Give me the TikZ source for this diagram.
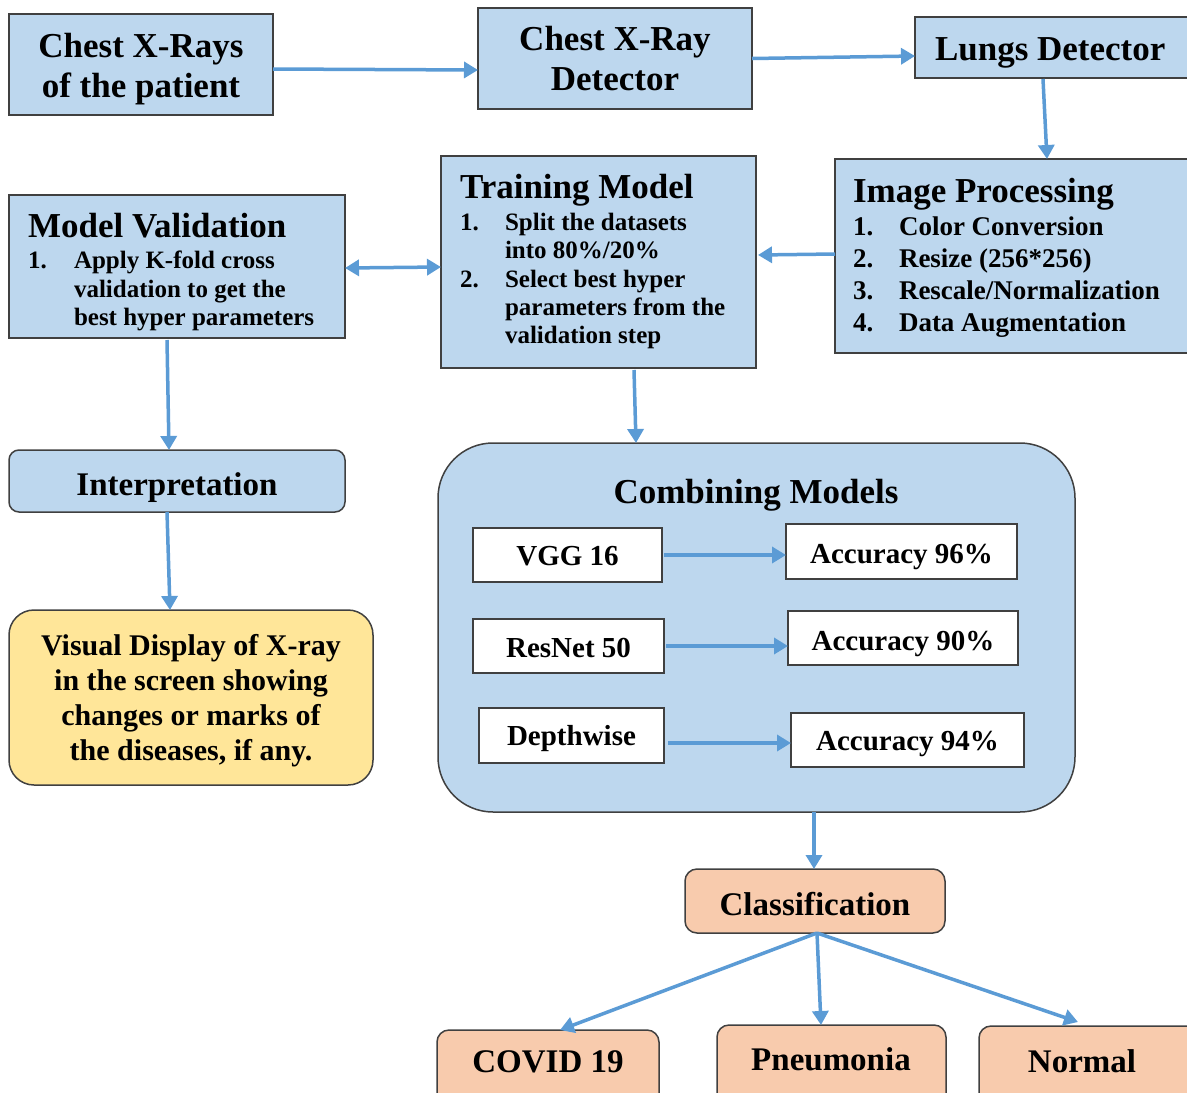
\documentclass[tikz,border=0pt]{standalone}
\usepackage{fontspec}
\setmainfont{Liberation Serif}
\usetikzlibrary{arrows.meta,calc}
\definecolor{boxblue}{HTML}{BDD7EE}
\definecolor{edge}{HTML}{404040}
\definecolor{salmon}{HTML}{F8CBAD}
\definecolor{yel}{HTML}{FFE699}
\definecolor{arr}{HTML}{5B9BD5}
\newcommand\fbig{\fontsize{35}{40}\selectfont\bfseries}
\newcommand\fmid{\fontsize{33}{38}\selectfont\bfseries}
\newcommand\fvis{\fontsize{30}{35}\selectfont\bfseries}
\newcommand\facc{\fontsize{29}{34}\selectfont\bfseries}
\newcommand\fip{\fontsize{27}{32}\selectfont\bfseries}
\newcommand\fsm{\fontsize{25}{29}\selectfont\bfseries}
\tikzset{
  boxbase/.style={draw=edge, line width=1.5pt, inner sep=0pt, outer sep=0pt, anchor=north west},
  bluebox/.style={boxbase, fill=boxblue},
  whitebox/.style={boxbase, fill=white},
  salbox/.style={boxbase, fill=salmon, rounded corners=12pt},
  txt/.style={inner sep=0pt, outer sep=0pt},
  conn/.style={draw=arr, line width=3.5pt, -{Triangle[length=14pt,width=16pt]}},
  dconn/.style={draw=arr, line width=3.5pt, {Triangle[length=14pt,width=16pt]}-{Triangle[length=14pt,width=16pt]}}
}
\begin{document}
\begin{tikzpicture}[x=1pt,y=-1pt]
\useasboundingbox (0,0) rectangle (1187,1093);
% top row
\node[bluebox, minimum width=264pt, minimum height=101pt] (A) at (9,14) {};
\node[txt, anchor=base] (A1t) at (141,57) {\fbig Chest X-Rays};
\node[txt, anchor=base] (A2t) at (141,97) {\fbig of the patient};
\node[bluebox, minimum width=274pt, minimum height=101pt] (B) at (478,8) {};
\node[txt, anchor=base] (B1t) at (615,50) {\fbig Chest X-Ray};
\node[txt, anchor=base] (B2t) at (615,90) {\fbig Detector};
\node[bluebox, minimum width=290pt, minimum height=61pt] (C) at (915,17) {};
\node[txt, anchor=base west] (Ct) at (935,60) {\fbig Lungs Detector};
% image processing
\node[bluebox, minimum width=370pt, minimum height=194pt] (D) at (835,159) {};
\node[txt, anchor=base west] (Dt) at (853,202) {\fbig Image Processing};
\node[txt, anchor=base west] (Dn1) at (853,235) {\fip 1.};
\node[txt, anchor=base west] (Di1) at (899,235) {\fip Color Conversion};
\node[txt, anchor=base west] (Dn2) at (853,267) {\fip 2.};
\node[txt, anchor=base west] (Di2) at (899,267) {\fip Resize (256*256)};
\node[txt, anchor=base west] (Dn3) at (853,299) {\fip 3.};
\node[txt, anchor=base west] (Di3) at (899,299) {\fip Rescale/Normalization};
\node[txt, anchor=base west] (Dn4) at (853,331) {\fip 4.};
\node[txt, anchor=base west] (Di4) at (899,331) {\fip Data Augmentation};
% training model
\node[bluebox, minimum width=315pt, minimum height=212pt] (E) at (441,156) {};
\node[txt, anchor=base west] (Et) at (460,198) {\fbig Training Model};
\node[txt, anchor=base west] (En1) at (460,230) {\fsm 1.};
\node[txt, anchor=base west] (Ei1) at (505,230) {\fsm Split the datasets};
\node[txt, anchor=base west] (Ei2) at (505,258) {\fsm into 80\%/20\%};
\node[txt, anchor=base west] (En2) at (460,287) {\fsm 2.};
\node[txt, anchor=base west] (Ei3) at (505,287) {\fsm Select best hyper};
\node[txt, anchor=base west] (Ei4) at (505,315) {\fsm parameters from the};
\node[txt, anchor=base west] (Ei5) at (505,343) {\fsm validation step};
% model validation
\node[bluebox, minimum width=336pt, minimum height=143pt] (F) at (9,195) {};
\node[txt, anchor=base west] (Ft) at (28,237) {\fbig Model Validation};
\node[txt, anchor=base west] (Fn1) at (28,268) {\fsm 1.};
\node[txt, anchor=base west] (Fi1) at (74,268) {\fsm Apply K-fold cross};
\node[txt, anchor=base west] (Fi2) at (74,297) {\fsm validation to get the};
\node[txt, anchor=base west] (Fi3) at (74,325) {\fsm best hyper parameters};
% interpretation and display
\node[bluebox, rounded corners=10pt, minimum width=336pt, minimum height=62pt] (G) at (9,450) {};
\node[txt, anchor=base] (Gt) at (177,495) {\fmid Interpretation};
\node[boxbase, fill=yel, rounded corners=25pt, minimum width=364pt, minimum height=175pt] (H) at (9,610) {};
\node[txt, anchor=base] (H1t) at (191,655) {\fvis Visual Display of X-ray};
\node[txt, anchor=base] (H2t) at (191,690) {\fvis in the screen showing};
\node[txt, anchor=base] (H3t) at (191,725) {\fvis changes or marks of};
\node[txt, anchor=base] (H4t) at (191,760) {\fvis the diseases, if any.};
% combining models
\node[bluebox, rounded corners=55pt, minimum width=637pt, minimum height=369pt] (I) at (438,443) {};
\node[txt, anchor=base] (It) at (756,503) {\fbig Combining Models};
\node[whitebox, minimum width=189pt, minimum height=54pt] (V1) at (473,528) {};
\node[txt, anchor=base] (V1t) at (567.5,565) {\facc VGG 16};
\node[whitebox, minimum width=231pt, minimum height=55pt] (R1) at (786,524) {};
\node[txt, anchor=base] (R1t) at (901.5,563) {\facc Accuracy 96\%};
\node[whitebox, minimum width=191pt, minimum height=54pt] (V2) at (473,619) {};
\node[txt, anchor=base] (V2t) at (568.5,657) {\facc ResNet 50};
\node[whitebox, minimum width=230pt, minimum height=54pt] (R2) at (788,611) {};
\node[txt, anchor=base] (R2t) at (903,650) {\facc Accuracy 90\%};
\node[whitebox, minimum width=185pt, minimum height=55pt] (V3) at (479,708) {};
\node[txt, anchor=base] (V3t) at (571.5,745) {\facc Depthwise};
\node[whitebox, minimum width=233pt, minimum height=54pt] (R3) at (791,713) {};
\node[txt, anchor=base] (R3t) at (907.5,750) {\facc Accuracy 94\%};
% classification
\node[salbox, minimum width=260pt, minimum height=64pt] (J) at (685,869) {};
\node[txt, anchor=base] (Jt) at (815,915) {\fmid Classification};
\node[salbox, minimum width=222pt, minimum height=80pt] (K) at (437,1030) {};
\node[txt, anchor=base] (Kt) at (548,1072) {\fmid COVID 19};
\node[salbox, minimum width=229pt, minimum height=85pt] (L) at (717,1025) {};
\node[txt, anchor=base] (Lt) at (831,1070) {\fmid Pneumonia};
\node[salbox, minimum width=230pt, minimum height=85pt] (M) at (979,1026) {};
\node[txt, anchor=base] (Mt) at (1082,1072) {\fmid Normal};
% connectors
\draw[conn] ($(A.east)+(0,4.5)$) -- ($(B.west)+(0,11.5)$);
\draw[conn] (B.east) -- ($(C.west)+(0,8.5)$);
\draw[conn] ($(C.south west)+(128,1)$) -- ($(D.north west)+(212,0)$);
\draw[conn] ($(D.west)+(0,-2)$) -- ($(E.east)+(2,-7)$);
\draw[dconn] ($(F.east)+(0,1.5)$) -- ($(E.west)+(0,5)$);
\draw[conn] ($(F.south west)+(158,2)$) -- ($(G.north west)+(160,0)$);
\draw[conn] ($(G.south west)+(158,0)$) -- ($(H.north west)+(161,0)$);
\draw[conn] ($(E.south west)+(193,2)$) -- ($(I.north west)+(198,0)$);
\draw[conn] ($(V1.east)+(2,0)$) -- ($(R1.west)+(0,3.5)$);
\draw[conn] ($(V2.east)+(2,0)$) -- ($(R2.west)+(0,8)$);
\draw[conn] ($(V3.east)+(4,7.5)$) -- ($(R3.west)+(0,3)$);
\draw[conn] ($(I.south west)+(376,0)$) -- ($(J.north west)+(129,0)$);
\draw[conn] ($(J.south west)+(132,0)$) -- ($(K.north west)+(123,0)$);
\draw[conn] ($(J.south west)+(132,0)$) -- ($(L.north west)+(104,0)$);
\draw[conn] ($(J.south west)+(132,0)$) -- ($(M.north west)+(99,-4)$);
\end{tikzpicture}
\end{document}
